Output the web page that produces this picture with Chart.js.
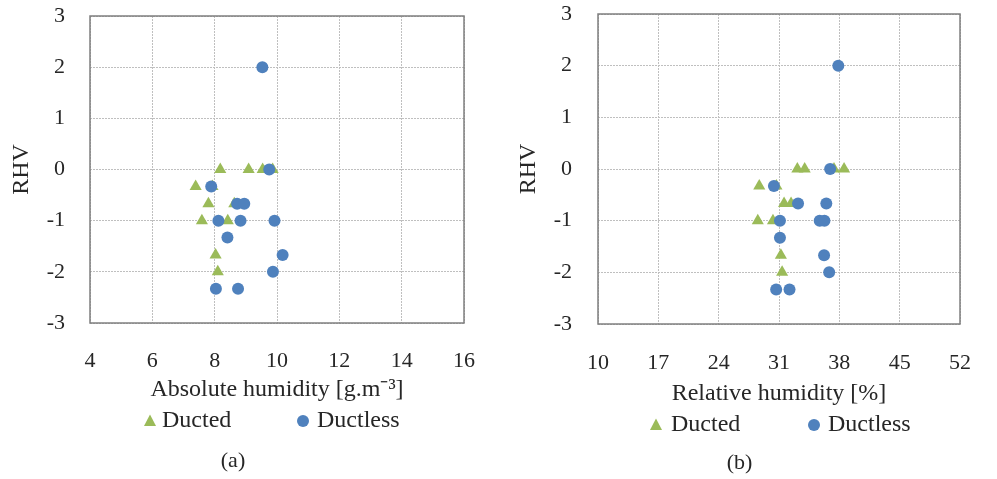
<!DOCTYPE html>
<html>
<head>
<meta charset="utf-8">
<script src="https://cdn.jsdelivr.net/npm/chart.js@4.4.1/dist/chart.umd.min.js"></script>
<style>
  body{margin:0;background:#fff;}
  .wrap{position:relative;width:997px;height:479px;}
  canvas{position:absolute;top:0;}
</style>
</head>
<body>
<div class="wrap">
  <canvas id="chartA" width="500" height="479" style="left:0"></canvas>
  <canvas id="chartB" width="497" height="479" style="left:500px"></canvas>
</div>
<script>
// Datos
const seriesNames = ['Ducted', 'Ductless'];
const rhvDucted   = [0, 0, 0, 0, -0.33, -0.33, -0.67, -0.67, -1, -1, -1.67, -2];
const rhvDuctless = [2, 0, -0.33, -0.67, -0.67, -1, -1, -1, -1.33, -1.67, -2, -2.33, -2.33];
// (a) humedad absoluta
const ahDucted   = [8.18, 9.09, 9.54, 9.86, 7.39, 7.93, 7.80, 8.63, 7.59, 8.42, 8.03, 8.10];
const ahDuctless = [9.53, 9.75, 7.89, 8.72, 8.95, 8.12, 8.83, 9.92, 8.41, 10.18, 9.87, 8.04, 8.75];
// (b) humedad relativa
const rhDucted   = [33.13, 33.98, 37.38, 38.55, 28.71, 30.70, 31.59, 32.40, 28.54, 30.30, 31.22, 31.36];
const rhDuctless = [37.88, 36.93, 30.41, 33.21, 36.49, 31.11, 35.72, 36.27, 31.11, 36.23, 36.82, 30.67, 32.22];
// ticks
const rhvTicks = [-3, -2, -1, 0, 1, 2, 3];
const ahTicks  = [4, 6, 8, 10, 12, 14, 16];
const rhTicks  = [10, 17, 24, 31, 38, 45, 52];

const FONT = '"Liberation Serif", "Times New Roman", serif';
const TEXT = '#262626';
const GREEN = '#9BBB59';
const BLUE = '#4F81BD';

function pairs(xs, ys){
  return xs.map((x, i) => ({x, y: ys[i]}));
}

// marco del área de trazado + leyenda en fila
const frameLegend = {
  id: 'frameLegend',
  beforeDatasetsDraw(chart){
    const {ctx, chartArea: a} = chart;
    ctx.save();
    ctx.strokeStyle = '#7F7F7F';
    ctx.lineWidth = 1.5;
    ctx.strokeRect(a.left, a.top, a.right - a.left, a.bottom - a.top);
    ctx.restore();
  },
  afterDraw(chart, args, opts){
    const {ctx, chartArea: a} = chart;
    const y = a.bottom + opts.offset;
    chart.data.datasets.forEach((ds, i) => {
      ctx.save();
      ctx.fillStyle = ds.backgroundColor;
      const mx = opts.markerX[i];
      if (ds.pointStyle === 'triangle') {
        ctx.beginPath();
        ctx.moveTo(mx, y - 6.5);
        ctx.lineTo(mx + 6, y + 5);
        ctx.lineTo(mx - 6, y + 5);
        ctx.closePath();
        ctx.fill();
      } else {
        ctx.beginPath();
        ctx.arc(mx, y, 6, 0, Math.PI * 2);
        ctx.fill();
      }
      ctx.fillStyle = TEXT;
      ctx.font = '24px ' + FONT;
      ctx.textBaseline = 'middle';
      ctx.textAlign = 'left';
      ctx.fillText(ds.label, opts.textX[i], y);
      ctx.restore();
    });
  }
};

function makeChart(id, xDucted, xDuctless, xTicks, xTitle, caption, g){
  const ctx = document.getElementById(id).getContext('2d');
  return new Chart(ctx, {
    type: 'scatter',
    data: {
      datasets: [
        { label: seriesNames[0], data: pairs(xDucted, rhvDucted), pointStyle: 'triangle',
          pointRadius: 7, pointHoverRadius: 7, backgroundColor: GREEN, borderWidth: 0, order: 1 },
        { label: seriesNames[1], data: pairs(xDuctless, rhvDuctless), pointStyle: 'circle',
          pointRadius: 6, pointHoverRadius: 6, backgroundColor: BLUE, borderWidth: 0, order: 0 }
      ]
    },
    options: {
      responsive: false,
      animation: false,
      layout: { padding: { top: g.padTop, right: g.padRight, bottom: g.padBottom, left: 0 } },
      scales: {
        x: {
          min: xTicks[0], max: xTicks[xTicks.length - 1],
          afterBuildTicks: s => { s.ticks = xTicks.map(v => ({value: v})); },
          afterFit: s => { s.height = g.xHeight; },
          grid: { color: '#BFBFBF', lineWidth: 1, drawTicks: false },
          border: { display: false, dash: [2, 1] },
          ticks: { padding: g.tickPadX, color: TEXT, font: { family: FONT, size: 22 } },
          title: { display: true, text: xTitle, color: TEXT, font: { family: FONT, size: 24 },
                   padding: { top: 0, bottom: g.xTitleBottom } }
        },
        y: {
          min: rhvTicks[0], max: rhvTicks[rhvTicks.length - 1],
          afterBuildTicks: s => { s.ticks = rhvTicks.map(v => ({value: v})); },
          afterFit: s => { s.width = g.yWidth; s.paddingTop = 0; s.paddingBottom = 0; },
          grid: { color: '#BFBFBF', lineWidth: 1, drawTicks: false },
          border: { display: false, dash: [2, 1] },
          ticks: { padding: g.tickPadY, color: TEXT, font: { family: FONT, size: 22 } },
          title: { display: true, text: 'RHV', color: TEXT, font: { family: FONT, size: 24 },
                   padding: { top: g.yTitlePad, bottom: 0 } }
        }
      },
      plugins: {
        legend: { display: false },
        tooltip: { enabled: false },
        title: { display: true, position: 'bottom', text: caption, color: TEXT,
                 font: { family: FONT, size: 22, weight: 'normal' }, padding: { top: 0, bottom: 0 } },
        frameLegend: { offset: g.legendOffset, markerX: g.markerX, textX: g.textX }
      }
    },
    plugins: [frameLegend]
  });
}

makeChart('chartA', ahDucted, ahDuctless, ahTicks, 'Absolute humidity [g.m\u207B\u00B3]', '(a)', {
  yWidth: 90, padTop: 16, padRight: 34, padBottom: 4.8, xHeight: 124.8,
  tickPadX: 25, tickPadY: 25, xTitleBottom: 43.4, yTitlePad: 7.6,
  legendOffset: 98, markerX: [150, 303], textX: [162, 317]
});

makeChart('chartB', rhDucted, rhDuctless, rhTicks, 'Relative humidity [%]', '(b)', {
  yWidth: 98, padTop: 14, padRight: 18, padBottom: 2.5, xHeight: 126.1,
  tickPadX: 26, tickPadY: 26, xTitleBottom: 42.4, yTitlePad: 14,
  legendOffset: 101, markerX: [156, 314], textX: [171, 328]
});
</script>
</body>
</html>
